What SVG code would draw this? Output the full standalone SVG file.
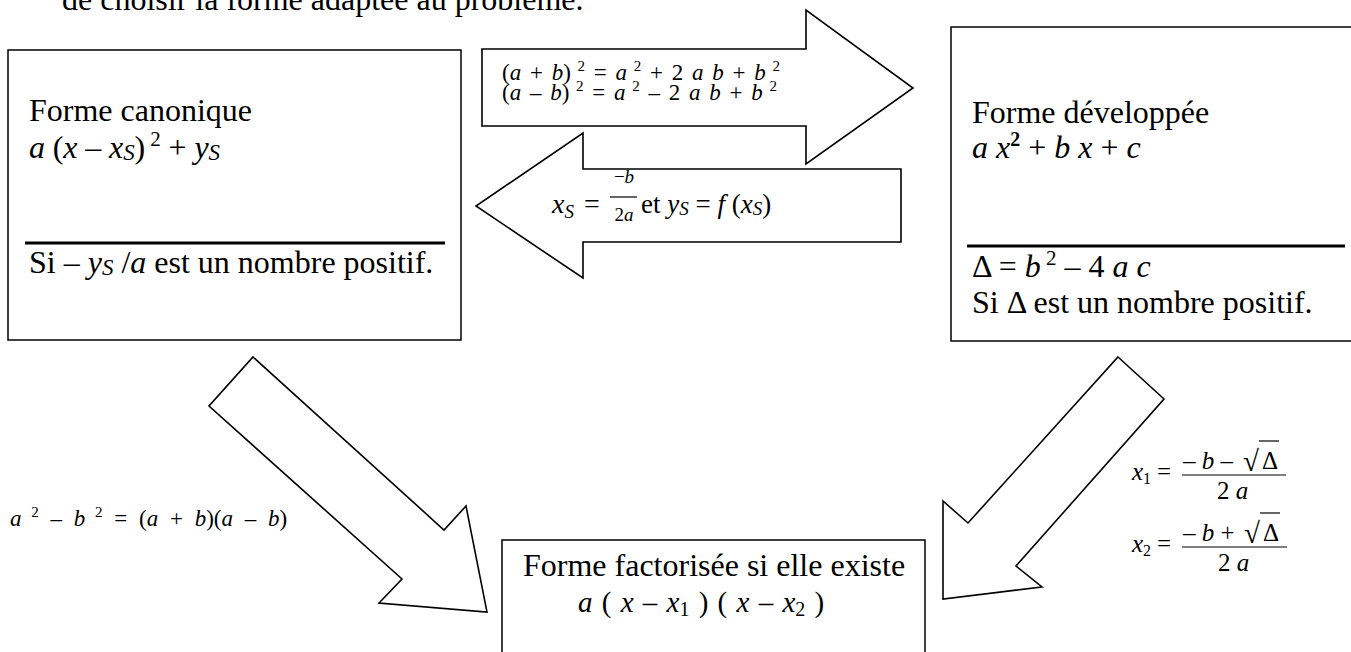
<svg xmlns="http://www.w3.org/2000/svg" width="1351" height="652" viewBox="0 0 1351 652">
<style>
.t{font-family:"Liberation Serif","Times New Roman",serif;fill:#000}
.i{font-style:italic}
.box{fill:#fff;stroke:#000;stroke-width:1.5}
.sep{stroke:#000;stroke-width:3}
.arrow{fill:#fff;stroke:#000;stroke-width:1.6;stroke-linejoin:miter}
.bar{stroke:#000;stroke-width:1.2}
</style>
<rect width="1351" height="652" fill="#fff"/>
<text class="t" x="62" y="10" font-size="32">de choisir la forme adaptée au problème.</text>

<g id="node-canonique">
<rect class="box" x="8" y="50" width="453" height="290"/>
<text class="t" x="29" y="121" font-size="32">Forme canonique</text>
<text class="t" x="29" y="158" font-size="32" textLength="191"><tspan class="i">a</tspan> (<tspan class="i">x</tspan> – <tspan class="i">x</tspan><tspan class="i" font-size="23" dy="2">S</tspan><tspan dy="-2">)</tspan><tspan font-size="21" dy="-12"> 2</tspan><tspan dy="12"> + </tspan><tspan class="i">y</tspan><tspan class="i" font-size="23" dy="2">S</tspan></text>
<line class="sep" x1="25" y1="243" x2="445" y2="243"/>
<text class="t" x="29" y="273" font-size="32">Si – <tspan class="i">y</tspan><tspan class="i" font-size="23" dy="2">S</tspan><tspan dy="-2"> /</tspan><tspan class="i">a</tspan> est un nombre positif.</text>
</g>

<g id="node-developpee">
<rect class="box" x="951" y="27" width="420" height="314"/>
<text class="t" x="972" y="123" font-size="32">Forme développée</text>
<text class="t" x="972" y="158" font-size="32"><tspan class="i">a x</tspan><tspan font-size="20" font-weight="bold" dy="-12">2</tspan><tspan dy="12"> + </tspan><tspan class="i">b x</tspan> + <tspan class="i">c</tspan></text>
<line class="sep" x1="967" y1="246" x2="1345" y2="246"/>
<text class="t" x="972" y="277" font-size="32">Δ = <tspan class="i">b</tspan><tspan font-size="21" dy="-12"> 2</tspan><tspan dy="12"> – 4 </tspan><tspan class="i">a c</tspan></text>
<text class="t" x="972" y="313" font-size="32">Si Δ est un nombre positif.</text>
</g>

<g id="node-factorisee">
<rect class="box" x="502" y="540" width="423" height="130"/>
<text class="t" x="523" y="576" font-size="32">Forme factorisée si elle existe</text>
<text class="t" x="578" y="612" font-size="29" word-spacing="2"><tspan class="i">a</tspan> ( <tspan class="i">x</tspan> – <tspan class="i">x</tspan><tspan font-size="20" dy="4">1</tspan><tspan dy="-4"> ) ( </tspan><tspan class="i">x</tspan> – <tspan class="i">x</tspan><tspan font-size="20" dy="4">2</tspan><tspan dy="-4"> )</tspan></text>
</g>

<g id="connectors">
<g id="arrow-dev">
<polygon class="arrow" points="482,49 806,49 806,10 913,88 806,164 806,126 482,126"/>
<text class="t" x="502" y="80" font-size="23" word-spacing="3">(<tspan class="i">a</tspan> + <tspan class="i">b</tspan>)<tspan font-size="15" dy="-9"> 2</tspan><tspan dy="9"> = </tspan><tspan class="i">a</tspan><tspan font-size="15" dy="-9"> 2</tspan><tspan dy="9"> + 2 </tspan><tspan class="i">a b</tspan> + <tspan class="i">b</tspan><tspan font-size="15" dy="-9"> 2</tspan></text>
<text class="t" x="502" y="100" font-size="23" word-spacing="3">(<tspan class="i">a</tspan> – <tspan class="i">b</tspan>)<tspan font-size="15" dy="-9"> 2</tspan><tspan dy="9"> = </tspan><tspan class="i">a</tspan><tspan font-size="15" dy="-9"> 2</tspan><tspan dy="9"> – 2 </tspan><tspan class="i">a b</tspan> + <tspan class="i">b</tspan><tspan font-size="15" dy="-9"> 2</tspan></text>
</g>
<g id="arrow-can">
<polygon class="arrow" points="901,169 583,169 583,133 476,206 583,278 583,242 901,242"/>
<text class="t i" x="552" y="213" font-size="28">x<tspan font-size="19" dy="5">S</tspan></text>
<text class="t" x="584" y="213" font-size="28">=</text>
<text class="t" x="624" y="183" font-size="19" text-anchor="middle">−<tspan class="i">b</tspan></text>
<line class="bar" x1="610" y1="197" x2="637" y2="197"/>
<text class="t i" x="624" y="221" font-size="19" text-anchor="middle"><tspan font-style="normal">2</tspan>a</text>
<text class="t" x="641" y="213" font-size="27">et <tspan class="i">y</tspan><tspan class="i" font-size="19" dy="2">S</tspan><tspan dy="-2"> = </tspan><tspan class="i">f</tspan> (<tspan class="i">x</tspan><tspan class="i" font-size="19" dy="2">S</tspan><tspan dy="-2">)</tspan></text>
</g>
<g id="arrow-fact-left">
<polygon class="arrow" points="253,357 444,530 466,506 487,612 379,603 402,579 209,406"/>
<text class="t" x="10" y="526" font-size="23" word-spacing="6"><tspan class="i">a</tspan><tspan font-size="15" dy="-9"> 2</tspan><tspan dy="9"> – </tspan><tspan class="i">b</tspan><tspan font-size="15" dy="-9"> 2</tspan><tspan dy="9"> = (</tspan><tspan class="i">a</tspan> + <tspan class="i">b</tspan>)(<tspan class="i">a</tspan> – <tspan class="i">b</tspan>)</text>
</g>
<g id="arrow-fact-right">
<polygon class="arrow" points="1118,357 1164,399 1016,566 1042,587 943,599 943,501 968,523"/>
<text class="t i" x="1132" y="480" font-size="25">x<tspan font-style="normal" font-size="16" dy="4">1</tspan></text>
<text class="t" x="1157" y="480" font-size="25">=</text>
<text class="t" x="1183" y="469" font-size="25">– <tspan class="i">b</tspan> –</text>
<text class="t" x="1243" y="471" font-size="29">√</text>
<line class="bar" x1="1259" y1="441" x2="1279" y2="441"/>
<text class="t" x="1262" y="469" font-size="25">Δ</text>
<line class="bar" x1="1182" y1="475" x2="1286" y2="475"/>
<text class="t" x="1217" y="499" font-size="25">2 <tspan class="i">a</tspan></text>
<text class="t i" x="1132" y="552" font-size="25">x<tspan font-style="normal" font-size="16" dy="4">2</tspan></text>
<text class="t" x="1157" y="552" font-size="25">=</text>
<text class="t" x="1183" y="541" font-size="25">– <tspan class="i">b</tspan> +</text>
<text class="t" x="1244" y="543" font-size="29">√</text>
<line class="bar" x1="1260" y1="513" x2="1280" y2="513"/>
<text class="t" x="1263" y="541" font-size="25">Δ</text>
<line class="bar" x1="1182" y1="547" x2="1287" y2="547"/>
<text class="t" x="1218" y="571" font-size="25">2 <tspan class="i">a</tspan></text>
</g>
</g>
</svg>
